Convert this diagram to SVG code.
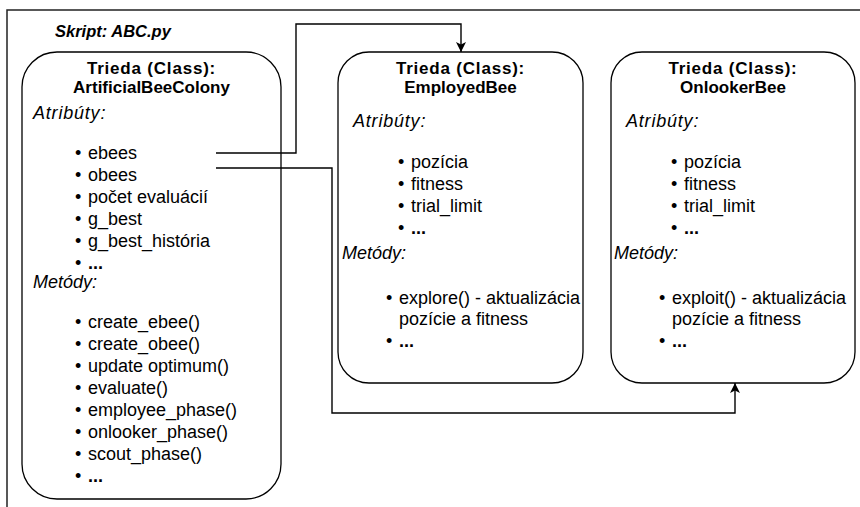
<svg xmlns="http://www.w3.org/2000/svg" width="860" height="507" viewBox="0 0 860 507">
  <style>
    text { font-family: "Liberation Sans", Arial, sans-serif; fill: #000; }
    .title { font-size: 17px; font-weight: bold; text-anchor: middle; }
    .cls { letter-spacing: 0.8px; }
    .sec { font-size: 18px; font-style: italic; }
    .attr { letter-spacing: 0.8px; }
    .item { font-size: 18px; }
    .dots { font-size: 18px; font-weight: bold; }
    .box { fill: #fff; stroke: #000; stroke-width: 1.3; }
    .wire { fill: none; stroke: #000; stroke-width: 1.4; }
    .frame { fill: none; stroke: #222; stroke-width: 1.5; }
  </style>
  <defs>
    <marker id="arrow" viewBox="0 0 10 12" refX="10" refY="6" markerWidth="11" markerHeight="12" markerUnits="userSpaceOnUse" orient="auto">
      <path d="M0,1 L10,6 L0,11 L2.5,6 Z" fill="#000"/>
    </marker>
  </defs>

  <rect width="860" height="507" fill="#fff"/>

  <!-- script frame -->
  <g id="script-frame">
    <rect class="frame" x="7" y="10" width="900" height="600"/>
    <text x="55" y="37" font-size="16.5" font-weight="bold" font-style="italic">Skript: ABC.py</text>
  </g>

  <!-- class ArtificialBeeColony -->
  <g id="artificial-bee-colony">
    <rect class="box" x="22" y="52" width="259" height="447" rx="35" ry="35"/>
    <text class="title cls" x="151.5" y="74">Trieda (Class):</text>
    <text class="title" x="151.5" y="93">ArtificialBeeColony</text>
    <text class="sec attr" x="33" y="119">Atribúty:</text>
    <g class="item">
      <text class="item" x="75" y="159">•</text><text class="item" x="88" y="159">ebees</text>
      <text class="item" x="75" y="181">•</text><text class="item" x="88" y="181">obees</text>
      <text class="item" x="75" y="203">•</text><text class="item" x="88" y="203">počet evaluácií</text>
      <text class="item" x="75" y="225">•</text><text class="item" x="88" y="225">g_best</text>
      <text class="item" x="75" y="247">•</text><text class="item" x="88" y="247">g_best_história</text>
      <text class="item" x="75" y="269">•</text><text class="dots" x="88" y="269">...</text>
    </g>
    <text class="sec" x="33" y="288">Metódy:</text>
    <g class="item">
      <text class="item" x="75" y="328">•</text><text class="item" x="88" y="328">create_ebee()</text>
      <text class="item" x="75" y="350">•</text><text class="item" x="88" y="350">create_obee()</text>
      <text class="item" x="75" y="372">•</text><text class="item" x="88" y="372">update optimum()</text>
      <text class="item" x="75" y="394">•</text><text class="item" x="88" y="394">evaluate()</text>
      <text class="item" x="75" y="416">•</text><text class="item" x="88" y="416">employee_phase()</text>
      <text class="item" x="75" y="438">•</text><text class="item" x="88" y="438">onlooker_phase()</text>
      <text class="item" x="75" y="460">•</text><text class="item" x="88" y="460">scout_phase()</text>
      <text class="item" x="75" y="482">•</text><text class="dots" x="88" y="482">...</text>
    </g>
  </g>

  <!-- class EmployedBee -->
  <g id="employed-bee">
    <rect class="box" x="338" y="52" width="245" height="331" rx="31" ry="31"/>
    <text class="title cls" x="460.5" y="74">Trieda (Class):</text>
    <text class="title" x="460.5" y="93">EmployedBee</text>
    <text class="sec attr" x="353" y="127">Atribúty:</text>
    <text class="item" x="398" y="168">•</text><text class="item" x="411" y="168">pozícia</text>
    <text class="item" x="398" y="190">•</text><text class="item" x="411" y="190">fitness</text>
    <text class="item" x="398" y="212">•</text><text class="item" x="411" y="212">trial_limit</text>
    <text class="item" x="398" y="234">•</text><text class="dots" x="411" y="234">...</text>
    <text class="sec" x="342" y="259">Metódy:</text>
    <text class="item" x="386" y="304">•</text><text class="item" x="399" y="304">explore() - aktualizácia</text>
    <text class="item" x="399" y="325">pozície a fitness</text>
    <text class="item" x="386" y="347">•</text><text class="dots" x="399" y="347">...</text>
  </g>

  <!-- class OnlookerBee -->
  <g id="onlooker-bee">
    <rect class="box" x="611" y="52" width="244" height="331" rx="31" ry="31"/>
    <text class="title cls" x="733" y="74">Trieda (Class):</text>
    <text class="title" x="733" y="93">OnlookerBee</text>
    <text class="sec attr" x="626" y="127">Atribúty:</text>
    <text class="item" x="671" y="168">•</text><text class="item" x="684" y="168">pozícia</text>
    <text class="item" x="671" y="190">•</text><text class="item" x="684" y="190">fitness</text>
    <text class="item" x="671" y="212">•</text><text class="item" x="684" y="212">trial_limit</text>
    <text class="item" x="671" y="234">•</text><text class="dots" x="684" y="234">...</text>
    <text class="sec" x="614" y="259">Metódy:</text>
    <text class="item" x="659" y="304">•</text><text class="item" x="672" y="304">exploit() - aktualizácia</text>
    <text class="item" x="672" y="325">pozície a fitness</text>
    <text class="item" x="659" y="347">•</text><text class="dots" x="672" y="347">...</text>
  </g>

  <!-- connectors -->
  <g id="connectors">
    <path class="wire" d="M216,153 H296 V24 H461 V52" marker-end="url(#arrow)"/>
    <path class="wire" d="M216,168 H332 V413 H735 V383" marker-end="url(#arrow)"/>
  </g>
</svg>
